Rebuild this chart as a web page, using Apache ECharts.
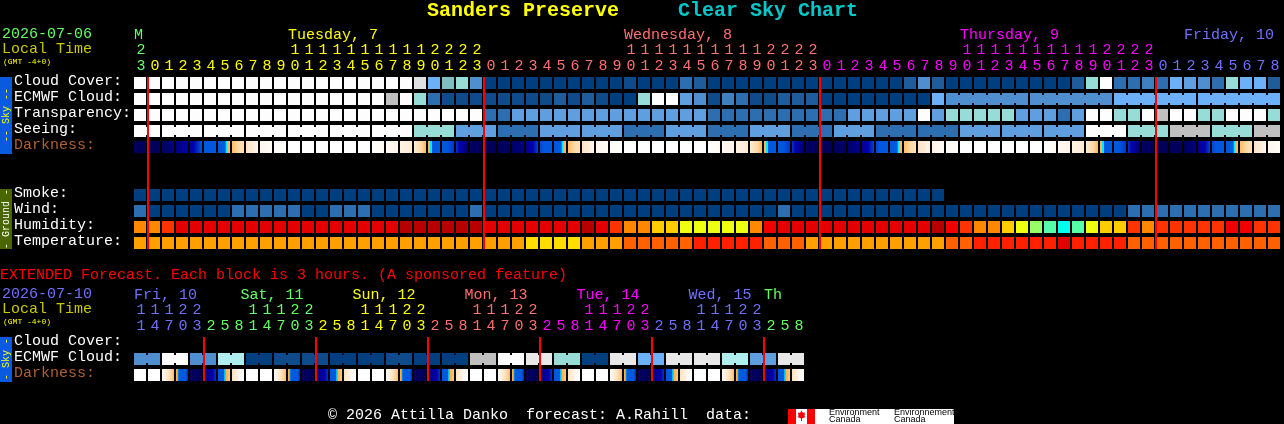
<!DOCTYPE html>
<html><head><meta charset="utf-8">
<style>html,body{margin:0;padding:0;background:#000}#c{width:1284px;height:424px}</style>
<script src="https://cdn.jsdelivr.net/npm/echarts@6/dist/echarts.min.js"></script>
</head><body><div id="c"></div>
<script>
// ---------- main forecast: one value per hour ----------
const hours = [23,0,1,2,3,4,5,6,7,8,9,10,11,12,13,14,15,16,17,18,19,20,21,22,23,0,1,2,3,4,5,6,7,8,9,10,11,12,13,14,15,16,17,18,19,20,21,22,23,0,1,2,3,4,5,6,7,8,9,10,11,12,13,14,15,16,17,18,19,20,21,22,23,0,1,2,3,4,5,6,7,8];
const dayNames = {0:'M',11:'Tuesday, 7',35:'Wednesday, 8',59:'Thursday, 9',75:'Friday, 10'};
const midnights = [1,25,49,73];
const mainRows = ['Cloud Cover:','ECMWF Cloud:','Transparency:','Seeing:','Darkness:','','','Smoke:','Wind:','Humidity:','Temperature:'];
const cloudCover = [100,100,100,100,100,100,100,100,100,100,100,100,100,100,100,100,100,100,100,100,70,35,40,45,25,0,0,0,0,0,0,0,0,0,0,5,0,0,0,15,10,0,0,0,0,0,0,0,0,0,0,0,0,0,0,10,25,10,0,0,0,0,0,0,0,0,0,10,45,100,15,15,20,15,35,30,25,15,45,35,35,10];
const ecmwfCloud = [100,100,100,100,100,100,100,100,100,100,100,100,100,100,100,100,100,100,60,100,45,15,5,5,5,5,5,5,5,5,10,5,10,5,0,0,45,100,100,30,25,5,20,15,5,5,10,10,10,0,0,0,0,0,0,0,0,35,25,25,25,25,25,25,25,25,25,25,25,25,35,35,35,35,35,35,35,35,35,35,35,35];
const transparency = [100,100,100,100,100,100,100,100,100,100,100,100,100,100,100,100,100,100,100,100,100,100,100,100,100,15,15,30,30,30,30,30,30,30,30,30,30,30,30,30,30,15,15,15,15,15,15,15,15,15,15,30,30,30,30,30,100,30,45,45,45,45,45,30,30,30,15,30,100,100,45,45,100,60,100,100,45,45,100,100,100,45];
const seeing = [100,100,100,100,100,100,100,100,100,100,100,100,100,100,100,100,100,100,100,100,45,45,45,30,30,30,15,15,15,30,30,30,30,30,30,15,15,15,30,30,30,15,15,15,30,30,30,15,15,15,30,30,30,15,15,15,15,15,15,30,30,30,30,30,30,30,30,30,100,100,100,45,45,45,60,60,60,45,45,45,60,60];
const seeingBlockStarts = [0,2,5,8,11,14,17,20,23,26,29,32,35,38,41,44,47,50,53,56,59,62,65,68,71,74,77,80];
const ecmwfHourlyUntil = 58;
const ecmwfBlockStarts = [58,64,70,76];
const darknessEdges = [5.6,5.7,5.6,5.0,4.4,3.0,2.6,-0.4,-1.6,-3,-3.6,-4,-4,-4,-4,-4,-4,-4,-3.4,-2.8,-2.2,-0.3,2.7,3.4,5.4,5.7,5.7,5.4,5.0,3.2,2.6,-0.4,-1.6,-3,-3.6,-4,-4,-4,-4,-4,-4,-4,-3.4,-2.8,-2.2,-0.3,2.7,3.4,5.4,5.7,5.7,5.3,4.8,3.2,2.6,-0.4,-1.6,-2.8,-3.4,-4,-4,-4,-4,-4,-4,-4,-3.4,-2.8,-2.2,-0.3,2.7,3.4,5.4,5.7,5.7,5.6,5.0,3.2,2.6,-0.4,-1.6,-3,-3.6];
const smoke = [2,2,2,2,2,2,2,2,2,2,2,2,2,2,2,2,2,2,2,2,2,2,2,2,2,2,2,2,2,2,2,2,2,2,2,2,2,2,2,2,2,2,2,2,2,2,2,2,2,2,2,2,2,2,2,2,2,2];
const wind = [10,5,5,5,5,5,5,10,10,10,10,10,5,5,10,10,10,5,5,5,5,5,5,5,10,5,5,5,5,5,5,5,5,5,5,5,5,5,5,5,5,5,5,5,5,5,10,5,5,5,5,5,5,5,5,5,5,5,5,5,5,5,5,5,5,5,5,5,5,5,5,10,10,10,10,10,10,10,10,10,10,10];
const humidity = [70,70,80,90,90,90,90,90,90,90,90,90,90,90,90,90,90,90,90,100,100,100,100,100,100,90,90,90,90,90,90,90,100,90,80,70,70,60,60,50,50,50,50,50,70,88,90,90,90,90,90,90,90,90,90,90,90,100,88,80,70,70,60,50,45,40,35,40,50,60,60,80,70,80,80,80,80,80,88,88,80,80];
const temperature = [20,20,20,20,20,20,20,20,20,20,20,20,20,20,20,20,20,20,20,20,20,20,20,20,20,20,20,20,18,18,18,18,20,20,20,22,22,22,22,22,25,25,25,25,25,22,22,22,20,20,20,20,20,20,20,20,20,20,22,22,25,25,25,25,25,25,28,25,25,25,25,22,22,22,22,22,22,22,22,22,22,22];
// ---------- extended forecast: one value per 3-hour block ----------
const extHours = [11,14,17,20,23,2,5,8,11,14,17,20,23,2,5,8,11,14,17,20,23,2,5,8,11,14,17,20,23,2,5,8,11,14,17,20,23,2,5,8,11,14,17,20,23,2,5,8];
const extDayNames = {0:'Fri, 10',7.6:'Sat, 11',15.6:'Sun, 12',23.6:'Mon, 13',31.6:'Tue, 14',39.6:'Wed, 15',45:'Th'};
const extMidnights = [5,13,21,29,37,45];
const extRows = ['Cloud Cover:','ECMWF Cloud:','Darkness:'];
const extEcmwf = [25,25,100,100,25,25,50,50,0,0,5,5,5,5,0,0,0,0,5,5,0,0,0,0,60,60,100,100,80,80,45,45,0,0,80,80,35,35,80,80,80,80,50,50,30,30,80,80];
const extBlockStarts = [0,2,4,6,8,10,12,14,16,18,20,22,24,26,28,30,32,34,36,38,40,42,44,46];
const extDarkStart = [-4,-4,-3.4,0,5.6,5.5,2.4,-1.6,-4,-4,-3.4,0,5.6,5.5,2.4,-1.6,-4,-4,-3.4,0,5.6,5.5,2.4,-1.6,-4,-4,-3.4,0,5.6,5.5,2.4,-1.6,-4,-4,-3.4,0,5.6,5.5,2.4,-1.6,-4,-4,-3.4,0,5.6,5.5,2.4,-1.6];
const extDarkEnd = [-4,-4,-0.3,3.6,5.7,3.4,-0.8,-4,-4,-4,-0.3,3.6,5.7,3.4,-0.8,-4,-4,-4,-0.3,3.6,5.7,3.4,-0.8,-4,-4,-4,-0.3,3.6,5.7,3.4,-0.8,-4,-4,-4,-0.3,3.6,5.7,3.4,-0.8,-4,-4,-4,-0.3,3.6,5.7,3.4,-0.8,-4];

// ---------- scales (value -> colour) ----------
const skyColours = {0:'#003f7f',5:'#0f4a8a',10:'#1f5c9c',15:'#2c6eaf',20:'#4080c0',25:'#4f8fd0',30:'#5f9fe0',35:'#6cb0f8',40:'#80bfbf',45:'#98dcd8',50:'#aeeeee',60:'#c0c0c0',70:'#e0e0e0',80:'#e8e8e8',100:'#fdfdfd'};
const smokeColours = {2:'#003f7f'};
const windColours = {5:'#003f7f',10:'#2c6eaf'};
const humidityColours = {100:'#b80000',90:'#e40000',88:'#f00000',80:'#ff3300',70:'#ff8800',60:'#ffcc00',50:'#eeff11',45:'#99ff66',40:'#55ffaa',35:'#00ffee'};
const temperatureColours = {18:'#ffdd00',20:'#ffa000',22:'#ff6000',25:'#ff2000',28:'#e00000'};
const darkStops = [[6,'#000050'],[5.5,'#000060'],[5,'#000080'],[4.5,'#0000a0'],[4,'#0000a8'],[3,'#0058e0'],[0.8,'#0058e0'],[0.6,'#00e8ff'],[0.3,'#00e8ff'],[0.2,'#ffb040'],[-0.5,'#ffc070'],[-1,'#ffd8a0'],[-2,'#ffe8d0'],[-3,'#fff6ec'],[-4,'#ffffff']];

const FONT = '"Liberation Mono"';
const GREEN='#66ff66', YELLOW='#ffff00', SALMON='#ff7070', MAGENTA='#ff00ff', PERI='#7070ff';
function hourColour(i){ return i<1?GREEN: i<25?YELLOW: i<49?SALMON: i<73?MAGENTA: PERI; }
function extColour(i){ return i<5?PERI: i<13?GREEN: i<21?YELLOW: i<29?SALMON: i<37?MAGENTA: i<45?PERI: GREEN; }

function hex(c){return [1,3,5].map(k=>parseInt(c.substr(k,2),16));}
function darkColour(v){
  if(v>=darkStops[0][0]) return darkStops[0][1];
  for(let k=1;k<darkStops.length;k++){
    const a=darkStops[k-1],b=darkStops[k];
    if(v>=b[0]){const t=(a[0]-v)/(a[0]-b[0]);const A=hex(a[1]),B=hex(b[1]);
      return 'rgb('+A.map((x,j)=>Math.round(x+(B[j]-x)*t)).join(',')+')';}
  }
  return darkStops[darkStops.length-1][1];
}
function darkFill(a,b){
  const stops=[{offset:0,color:darkColour(a)}];
  const lo=Math.min(a,b),hi=Math.max(a,b);
  if(hi>lo){
    const inner=darkStops.filter(s=>s[0]>lo&&s[0]<hi).map(s=>({offset:(s[0]-a)/(b-a),color:s[1]}));
    inner.sort((p,q)=>p.offset-q.offset);stops.push(...inner);
  }
  stops.push({offset:1,color:darkColour(b)});
  return {type:'linear',x:0,y:0,x2:1,y2:0,global:false,colorStops:stops};
}

// row series: plain cells, optionally joined inside blocks
function cellSeries(gridIdx,row,values,colours,isLinked){
  return {type:'custom',xAxisIndex:gridIdx*3,yAxisIndex:gridIdx,silent:true,animation:false,z:2,
    data:values.map((v,i)=>[i,row,v]),
    renderItem(params,api){
      const i=api.value(0),c=api.coord([i,api.value(1)]),s=api.size([1,1]);
      const x=c[0]-s[0]/2,y=c[1]-s[1]/2,fill=colours[api.value(2)];
      const kids=[{type:'rect',shape:{x:x,y:y+2,width:12,height:12},style:{fill:fill}}];
      if(isLinked&&isLinked(i)) kids.push({type:'rect',shape:{x:x+12,y:y+4,width:2,height:8},style:{fill:fill}});
      return {type:'group',children:kids};
    }};
}
function darkSeries(gridIdx,row,starts,ends){
  return {type:'custom',xAxisIndex:gridIdx*3,yAxisIndex:gridIdx,silent:true,animation:false,z:2,
    data:starts.map((v,i)=>[i,row,v,ends[i]]),
    renderItem(params,api){
      const c=api.coord([api.value(0),api.value(1)]),s=api.size([1,1]);
      return {type:'rect',shape:{x:c[0]-s[0]/2,y:c[1]-s[1]/2+2,width:12,height:12},
        style:{fill:darkFill(api.value(2),api.value(3))}};
    }};
}
function lineSeries(gridIdx,idx){
  return {type:'custom',xAxisIndex:gridIdx*3,yAxisIndex:gridIdx,silent:true,animation:false,z:5,
    data:idx.map(i=>[i,0]),
    renderItem(params,api){
      const c=api.coord([api.value(0),0]),s=api.size([1,1]),cs=params.coordSys;
      return {type:'rect',shape:{x:c[0]-s[0]/2-1,y:cs.y+2,width:2,height:cs.height-4},style:{fill:'#ff0000'}};
    }};
}
function linker(starts,from,n){const set=new Set(starts);return i=>i>=from&&i+1<n&&!set.has(i+1);}

function hourAxis(gridIdx,labels,colourFn,offset){
  return {type:'category',gridIndex:gridIdx,position:'top',offset:offset,data:labels,boundaryGap:true,
    axisLine:{show:false},axisTick:{show:false},splitLine:{show:false},
    axisLabel:{show:true,interval:0,margin:0,hideOverlap:false,fontFamily:FONT,fontSize:15,
      color:(v,i)=>colourFn(i)}};
}
function dayAxis(gridIdx,names,maxV,colourFor){
  const vals=Object.keys(names).map(Number);
  return {type:'value',gridIndex:gridIdx,position:'top',offset:32,min:0,max:maxV,
    axisLine:{show:false},axisTick:{show:false},splitLine:{show:false},
    axisLabel:{show:true,customValues:vals,margin:0,align:'left',hideOverlap:false,fontFamily:FONT,fontSize:15,
      formatter:v=>names[v]||'',color:v=>colourFor(Number(v))}};
}
function rowAxis(gridIdx,labels){
  return {type:'category',gridIndex:gridIdx,inverse:true,data:labels,
    axisLine:{show:false},axisTick:{show:false},splitLine:{show:false},
    axisLabel:{show:true,interval:0,margin:120,align:'left',verticalAlign:'bottom',lineHeight:3,fontFamily:FONT,fontSize:15,
      color:v=>v==='Darkness:'?'#b06030':'#ffffff'}};
}
const mainDayColour=v=>v===0?GREEN:v===11?YELLOW:v===35?SALMON:v===59?MAGENTA:PERI;
const extDayColour=v=>v===0?PERI:v<8?GREEN:v<16?YELLOW:v<24?SALMON:v<32?MAGENTA:v<40?PERI:GREEN;

function txt(text,x,y,fill,font,extra){
  return Object.assign({type:'text',silent:true,style:{text:text,x:x,y:y,fill:fill,font:font,textVerticalAlign:'middle',verticalAlign:'middle'}},extra||{});
}
function vtxt(text,cx,cy,fill){
  return {type:'text',silent:true,x:cx,y:cy,rotation:Math.PI/2,z:10,
    style:{text:text,x:0,y:0,fill:fill,font:'10px '+FONT,align:'center',verticalAlign:'middle'}};
}
function box(x,y,w,h,fill){return {type:'rect',silent:true,shape:{x:x,y:y,width:w,height:h},style:{fill:fill}};}
const f15='15px '+FONT;
const LOGO='9px "Liberation Sans"';
const graphics=[
  txt('Sanders Preserve',427,11,'#ffff00','bold 20px '+FONT),
  txt('Clear Sky Chart',678,11,'#00c8c8','bold 20px '+FONT),
  txt('2026-07-06',2,34,GREEN,f15),
  txt('Local Time',2,49,'#c8c800',f15),
  txt('(GMT -4+0)',3,62,'#ffff00','8px '+FONT),
  box(0,77,12,77,'#0a5ae0'),vtxt('-- Sky --',6,115,'#ffff00'),
  box(0,189,12,60,'#4a6600'),vtxt('- Ground -',6,219,'#ffffff'),
  txt('EXTENDED Forecast. Each block is 3 hours. (A sponsored feature)',0,275,'#ff0000',f15),
  txt('2026-07-10',2,294,PERI,f15),
  txt('Local Time',2,309,'#c8c800',f15),
  txt('(GMT -4+0)',3,322,'#ffff00','8px '+FONT),
  box(0,337,12,45,'#0a5ae0'),vtxt('- Sky -',6,359,'#ffff00'),
  txt('\u00a9 2026 Attilla Danko  forecast: A.Rahill  data:',328,415,'#ffffff',f15),
  box(788,409,166,15,'#ffffff'),box(788,409,8,15,'#ff0000'),box(807,409,8,15,'#ff0000'),
  {type:'polygon',silent:true,shape:{points:[[801.5,410.5],[803,413],[805,412.5],[804.5,416],[805.5,417],[802,418.5],[802,421],[801,421],[801,418.5],[797.5,417],[798.5,416],[798,412.5],[800,413]]},style:{fill:'#ff0000'}},
  txt('Environment',829,413,'#000000',LOGO),
  txt('Canada',829,420,'#000000',LOGO),
  txt('Environnement',894,413,'#000000',LOGO),
  txt('Canada',894,420,'#000000',LOGO)
];

const tens=h=>h<10?'':String(Math.floor(h/10));
const ones=h=>String(h%10);
const option={
  backgroundColor:'#000000',animation:false,
  grid:[{left:134,top:75,width:1148,height:176},{left:134,top:335,width:672,height:48}],
  xAxis:[
    hourAxis(0,hours.map(ones),hourColour,1),hourAxis(0,hours.map(tens),hourColour,17),dayAxis(0,dayNames,82,mainDayColour),
    hourAxis(1,extHours.map(ones),extColour,1),hourAxis(1,extHours.map(tens),extColour,17),dayAxis(1,extDayNames,48,extDayColour)
  ],
  yAxis:[rowAxis(0,mainRows),rowAxis(1,extRows)],
  series:[
    cellSeries(0,0,cloudCover,skyColours),
    cellSeries(0,1,ecmwfCloud,skyColours,linker(ecmwfBlockStarts,ecmwfHourlyUntil,ecmwfCloud.length)),
    cellSeries(0,2,transparency,skyColours),
    cellSeries(0,3,seeing,skyColours,linker(seeingBlockStarts,0,seeing.length)),
    darkSeries(0,4,darknessEdges.slice(0,-1),darknessEdges.slice(1)),
    cellSeries(0,7,smoke,smokeColours),
    cellSeries(0,8,wind,windColours),
    cellSeries(0,9,humidity,humidityColours),
    cellSeries(0,10,temperature,temperatureColours),
    lineSeries(0,midnights),
    cellSeries(1,1,extEcmwf,skyColours,linker(extBlockStarts,0,extEcmwf.length)),
    darkSeries(1,2,extDarkStart,extDarkEnd),
    lineSeries(1,extMidnights)
  ],
  graphic:graphics
};
const chart=echarts.init(document.getElementById('c'),null,{renderer:'canvas',width:1284,height:424});
chart.setOption(option);
</script></body></html>
